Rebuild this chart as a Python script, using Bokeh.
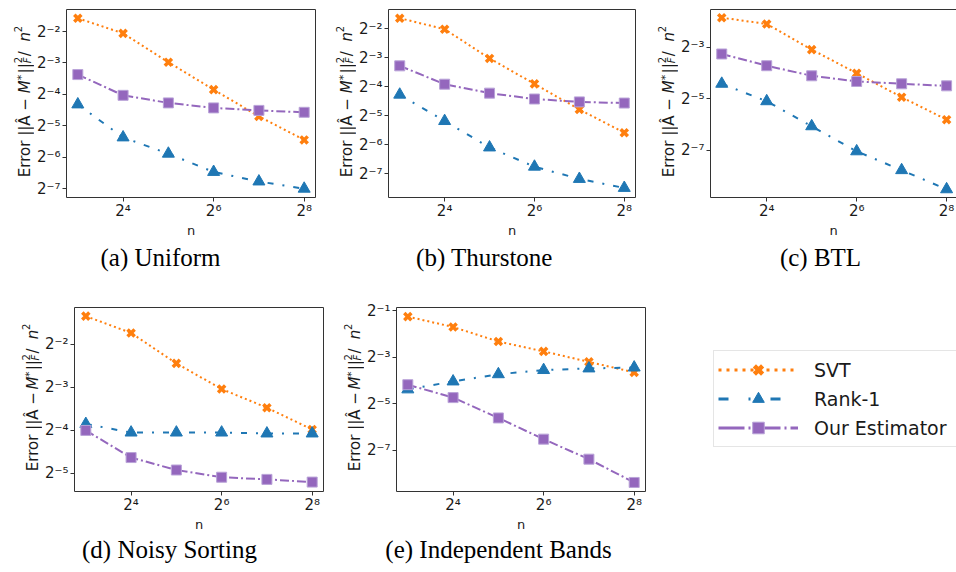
import math

from bokeh.core.properties import value
from bokeh.embed import file_html
from bokeh.layouts import column, row
from bokeh.models import (CustomJSTickFormatter, FixedTicker, Legend, LegendItem,
                          LinearAxis, Range1d)
from bokeh.plotting import figure
from bokeh.resources import INLINE

# matrix size n
N = [8, 16, 32, 64, 128, 256]

# mean squared Frobenius error ||A_hat - M*||_F^2 / n^2 for each model
uniform_svt = [0.335, 0.240, 0.127, 0.0694, 0.0385, 0.0229]
uniform_rank1 = [0.0501, 0.0242, 0.0169, 0.0113, 0.00916, 0.00781]
uniform_ours = [0.0967, 0.0612, 0.0518, 0.0464, 0.0439, 0.0421]

thurstone_svt = [0.321, 0.247, 0.123, 0.0670, 0.0364, 0.0209]
thurstone_rank1 = [0.0518, 0.0276, 0.0147, 0.00929, 0.00694, 0.00560]
thurstone_ours = [0.103, 0.0665, 0.0537, 0.0467, 0.0436, 0.0424]

btl_svt = [0.276, 0.233, 0.117, 0.0621, 0.0326, 0.0178]
btl_rank1 = [0.0467, 0.0292, 0.0149, 0.00760, 0.00458, 0.00274]
btl_ours = [0.104, 0.0759, 0.0579, 0.0497, 0.0467, 0.0442]

sorting_svt = [0.392, 0.299, 0.183, 0.121, 0.0896, 0.0630]
sorting_rank1 = [0.0689, 0.0600, 0.0600, 0.0600, 0.0591, 0.0591]
sorting_ours = [0.0621, 0.0401, 0.0328, 0.0292, 0.0282, 0.0270]

bands_svt = [0.420, 0.308, 0.200, 0.149, 0.109, 0.0797]
bands_rank1 = [0.0480, 0.0608, 0.0754, 0.0854, 0.0896, 0.0921]
bands_ours = [0.0552, 0.0376, 0.0205, 0.0109, 0.00600, 0.00300]

SERIES = ["SVT", "Rank-1", "Our Estimator"]
CAPTIONS = ["(a) Uniform", "(b) Thurstone", "(c) BTL",
            "(d) Noisy Sorting", "(e) Independent Bands"]
X_TICKS = [16, 64, 256]

ORANGE, BLUE, PURPLE = "#ff7f0e", "#1f77b4", "#9467bd"
INK = "#333333"
TEXT = "#1a1a1a"
SANS = "DejaVu Sans"
SERIF = "Liberation Serif"

# tick labels as powers of two with superscript exponents
POW2 = CustomJSTickFormatter(code="""
const sup = {"-": "\u207b", "0": "\u2070", "1": "\u00b9", "2": "\u00b2", "3": "\u00b3",
             "4": "\u2074", "5": "\u2075", "6": "\u2076", "7": "\u2077", "8": "\u2078",
             "9": "\u2079"};
const e = Math.round(Math.log2(tick));
return "2" + String(e).split("").map(c => sup[c]).join("");
""")

# approximate DejaVu Sans advance widths (em) used to lay out the y label
ADV = {"E": 0.632, "r": 0.411, "o": 0.612, " ": 0.318, "|": 0.337, "Â": 0.684,
       "−": 0.838, "M": 0.863, "*": 0.5, "2": 0.636, "F": 0.575, "/": 0.337,
       "n": 0.634}

# (text, font px, style, baseline shift px, advances?)
YLABEL = [("Error ||Â − ", 15, "normal", 0, True),
          ("M", 15, "italic", 0, True),
          ("*", 11, "normal", 3, True),
          ("||", 15, "normal", 0, True),
          ("2", 10, "normal", 7, False),
          ("F", 10, "italic", -3, True),
          (" / ", 15, "normal", 0, True),
          ("n", 15, "italic", 0, True),
          ("2", 10, "normal", 7, True)]


def text_canvas(width, height, top=0, bottom=0):
    """Blank canvas whose ranges are its frame's pixel size, used for free text."""
    t = figure(width=width, height=height, x_range=Range1d(0, width),
               y_range=Range1d(0, height - top - bottom), min_border=0,
               min_border_top=top, min_border_bottom=bottom, x_axis_location=None,
               y_axis_location=None, output_backend="svg", toolbar_location=None)
    t.outline_line_color = None
    t.background_fill_color = "white"
    t.border_fill_color = "white"
    t.grid.visible = False
    return t


def ylabel_canvas(width, height, top, bottom, x_base):
    """Rotated axis title assembled from pieces (sub- and superscripts)."""
    t = text_canvas(width, height, top, bottom)
    frame_h = height - top - bottom
    lens = []
    for text, px, _, _, adv in YLABEL:
        w = sum(ADV[c] for c in text) * px
        lens.append(w if adv else 0.0)
    total = sum(lens) + 3
    y = frame_h / 2 + 2 - total / 2
    for (text, px, style, shift, _), w in zip(YLABEL, lens):
        t.text(x=[x_base - shift], y=[y], text=[text], angle=math.pi / 2,
               text_font=value(SANS), text_font_style=value(style),
               text_font_size=value(f"{px}px"), text_color=TEXT,
               text_align="left", text_baseline="alphabetic")
        y += w
        if text in ("*", "F"):
            y += 1.5
    return t


def caption_canvas(width, height, caption, cx, center_from_top):
    t = text_canvas(width, height)
    t.text(x=[cx], y=[height - center_from_top], text=[caption], text_font=value(SERIF),
           text_font_size=value("25px"), text_color="black", text_align="center",
           text_baseline="middle")
    return t


def panel(svt, rank1, ours, y_exps, y_lo, y_hi, *, width, height, left, right, top,
          bottom, x_hi=8.25, open_right=False):
    p = figure(width=width, height=height, x_axis_type="log", y_axis_type="log",
               x_range=Range1d(2 ** 2.75, 2 ** x_hi), y_range=Range1d(2 ** y_lo, 2 ** y_hi),
               min_border_left=left, min_border_right=right, min_border_top=top,
               min_border_bottom=bottom, output_backend="svg", toolbar_location=None)
    p.grid.visible = False
    p.background_fill_color = "white"
    p.border_fill_color = "white"

    p.line(N, svt, line_color=ORANGE, line_width=2, line_dash="2 3")
    p.scatter(N, svt, marker="x", size=10, line_color=ORANGE, line_width=3.5)
    p.line(N, rank1, line_color=BLUE, line_width=2, line_dash="6 9 2 9")
    p.scatter(N, rank1, marker="triangle", size=12, fill_color=BLUE, line_color=BLUE)
    p.line(N, ours, line_color=PURPLE, line_width=2, line_dash="9 3 2 3")
    p.scatter(N, ours, marker="square", size=10, fill_color=PURPLE, line_color="#b9a3d8",
              line_width=1)

    p.xaxis.ticker = FixedTicker(ticks=X_TICKS)
    p.yaxis.ticker = FixedTicker(ticks=[2.0 ** e for e in y_exps])
    for ax in (p.xaxis[0], p.yaxis[0]):
        ax.formatter = POW2
        ax.major_tick_in = 0
        ax.major_tick_out = 4
        ax.major_tick_line_color = INK
        ax.minor_tick_line_color = None
        ax.major_label_text_font = SANS
        ax.major_label_text_font_size = "15px"
        ax.major_label_text_color = TEXT
        ax.axis_line_color = INK if open_right else None
    p.yaxis.major_label_standoff = 2
    p.xaxis.major_label_standoff = 0
    p.xaxis.axis_label = "n"
    p.xaxis.axis_label_text_font = SANS
    p.xaxis.axis_label_text_font_style = "normal"
    p.xaxis.axis_label_text_font_size = "13px"
    p.xaxis.axis_label_text_color = TEXT
    p.xaxis.axis_label_standoff = 0

    if open_right:
        p.outline_line_color = None
        p.add_layout(LinearAxis(ticker=FixedTicker(ticks=[]), axis_line_color=INK), "above")
    else:
        p.outline_line_color = INK
        p.outline_line_width = 1
    return p


def block(series, y_exps, y_lo, y_hi, caption, cap_x, *, label_w, plot_w, right, top,
          plot_h, bottom, cap_h, cap_y, x_hi=8.25, open_right=False):
    left = 27
    p = panel(*series, y_exps, y_lo, y_hi, width=plot_w, height=plot_h, left=left,
              right=right, top=top, bottom=bottom, x_hi=x_hi, open_right=open_right)
    lab = ylabel_canvas(label_w, plot_h, top, bottom, label_w + left - 37)
    cap = caption_canvas(label_w + plot_w, cap_h, caption, cap_x, cap_y)
    return column(row(lab, p), cap)


ROW1 = dict(top=9, plot_h=240, bottom=42, cap_h=45, cap_y=17)
ROW2 = dict(top=22, plot_h=249, bottom=37, cap_h=38, cap_y=15)

ba = block((uniform_svt, uniform_rank1, uniform_ours), [-2, -3, -4, -5, -6, -7], -7.28, -1.30,
           CAPTIONS[0], 160, label_w=34, plot_w=286, right=5, **ROW1)
bb = block((thurstone_svt, thurstone_rank1, thurstone_ours), [-2, -3, -4, -5, -6, -7],
           -7.81, -1.34, CAPTIONS[1], 164, label_w=36, plot_w=284, right=5, **ROW1)
bc = block((btl_svt, btl_rank1, btl_ours), [-3, -5, -7], -8.83, -1.54,
           CAPTIONS[2], 180, label_w=38, plot_w=278, right=0, x_hi=8.22, open_right=True,
           **ROW1)
bd = block((sorting_svt, sorting_rank1, sorting_ours), [-2, -3, -4, -5], -5.43, -1.15,
           CAPTIONS[3], 169, label_w=42, plot_w=288, right=7, **ROW2)
be = block((bands_svt, bands_rank1, bands_ours), [-1, -3, -5, -7], -8.77, -0.86,
           CAPTIONS[4], 168, label_w=34, plot_w=286, right=5, **ROW2)

# shared legend in its own blank canvas; its sample renderers stay hidden
lg = text_canvas(306, 287)
l_svt = lg.line(N, bands_svt, line_color=ORANGE, line_width=3, line_dash="3 5")
m_svt = lg.scatter(N, bands_svt, marker="x", line_color=ORANGE, line_width=4.5)
l_r1 = lg.line(N, bands_rank1, line_color=BLUE, line_width=3, line_dash="10 20 2 20")
m_r1 = lg.scatter(N, bands_rank1, marker="triangle", fill_color=BLUE, line_color=BLUE)
l_ours = lg.line(N, bands_ours, line_color=PURPLE, line_width=3, line_dash="26 4 2 4")
m_ours = lg.scatter(N, bands_ours, marker="square", fill_color=PURPLE, line_color="#b9a3d8")
for r in (l_svt, m_svt, l_r1, m_r1, l_ours, m_ours):
    r.visible = False

legend = Legend(items=[LegendItem(label=SERIES[0], renderers=[l_svt, m_svt]),
                       LegendItem(label=SERIES[1], renderers=[l_r1, m_r1]),
                       LegendItem(label=SERIES[2], renderers=[l_ours, m_ours])],
                location=(63, 125), margin=0, padding=4, spacing=0,
                glyph_width=80, glyph_height=29, label_height=29, label_standoff=16,
                label_width=140, label_text_font=SANS, label_text_font_size="19px",
                label_text_color=TEXT, border_line_color="#cccccc",
                border_line_width=1, background_fill_color="white",
                inactive_fill_alpha=0.0)
lg.add_layout(legend)

layout = column(row(ba, bb, bc), row(bd, be, lg))

open("out.html", "w").write(file_html(layout, INLINE))
